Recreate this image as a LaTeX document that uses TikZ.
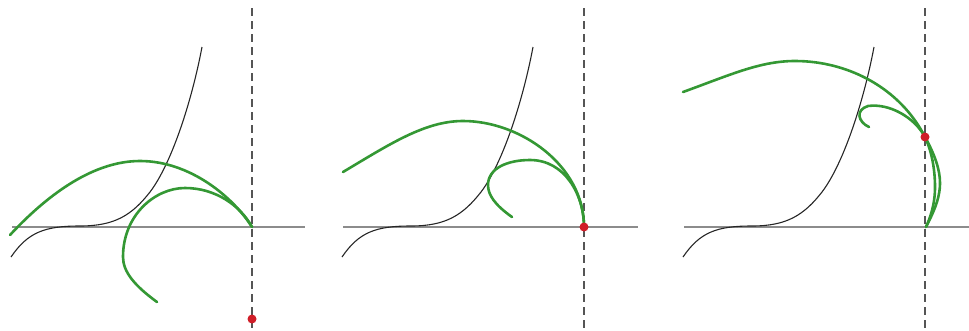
\documentclass[tikz,border=0pt]{standalone}
\definecolor{grn}{RGB}{52,152,52}
\definecolor{reddot}{RGB}{208,30,40}
\definecolor{axisgray}{RGB}{140,140,140}
\definecolor{dashgray}{RGB}{85,85,85}
\tikzset{
  greencurve/.style={draw=grn,line width=2.6pt,line cap=round},
  blackcurve/.style={draw=black!85,line width=1.1pt},
  axisline/.style={draw=axisgray,line width=1.1pt},
  dashline/.style={draw=dashgray,line width=1.5pt,dash pattern=on 8pt off 5pt},
  reddotstyle/.style={fill=reddot},
}
\begin{document}
\begin{tikzpicture}[x=1pt,y=-1pt]
\useasboundingbox (0,0) rectangle (969,330);
% axes and dashed verticals
\draw[axisline] (12,227) -- (305,227);
\draw[axisline] (343,227) -- (638,227);
\draw[axisline] (684,227) -- (969,227);
\draw[dashline] (252,8) -- (252,330);
\draw[dashline] (584,8) -- (584,330);
\draw[dashline] (925,8) -- (925,330);
% black curves
\foreach \o in {0,331,672}{
  \draw[blackcurve,shift={(\o,0)}] (11,257) .. controls (28,232) and (45,226) .. (80,226)
    .. controls (115,226) and (132,215) .. (150,192)
    .. controls (172,163) and (192,100) .. (202,47);
}
% panel 1 green
\draw[greencurve] (10,235) .. controls (50,192) and (95,161) .. (140,161)
  .. controls (190,161) and (233,197) .. (252,227);
\draw[greencurve] (157,302) .. controls (135,286) and (123,272) .. (123,257)
  .. controls (123,215) and (155,188) .. (185,188)
  .. controls (215,188) and (240,205) .. (252,227);
% panel 2 green
\draw[greencurve] (343,172) .. controls (390,144) and (425,121) .. (463,121)
  .. controls (520,121) and (584,165) .. (584,227);
\draw[greencurve] (512,217) .. controls (495,205) and (488,195) .. (488,185)
  .. controls (488,168) and (508,160) .. (530,160)
  .. controls (565,160) and (584,195) .. (584,227);
% panel 3 green
\draw[greencurve] (683,92) .. controls (730,75) and (760,61) .. (795,61)
  .. controls (848,61) and (900,88) .. (925,137)
  .. controls (935,155) and (940,170) .. (940,183)
  .. controls (940,200) and (932,215) .. (926,227);
\draw[greencurve] (869,127) .. controls (858,122) and (855,110) .. (868,106)
  .. controls (890,103) and (915,118) .. (925,137)
  .. controls (932,152) and (935,170) .. (935,187)
  .. controls (935,205) and (930,218) .. (926,227);
% red dots
\coordinate (d1) at (252,319);
\coordinate (d2) at (584,227);
\coordinate (d3) at (925,137);
\fill[reddotstyle] (d1) circle[radius=4.5pt];
\fill[reddotstyle] (d2) circle[radius=4.5pt];
\fill[reddotstyle] (d3) circle[radius=4.5pt];
\end{tikzpicture}
\end{document}
